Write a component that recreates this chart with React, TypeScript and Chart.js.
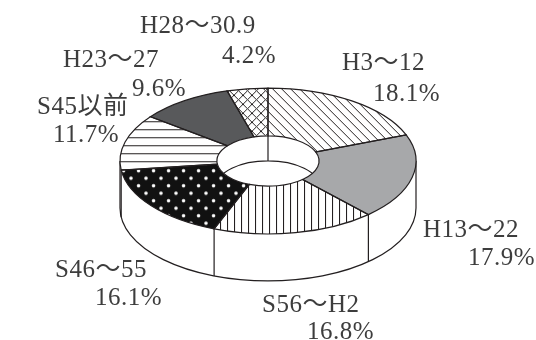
import React, { useEffect, useRef } from "react";
import { Chart, registerables } from "chart.js";

Chart.register(...registerables);

// ---- data ----
const categories = ["H3～12", "H13～22", "S56～H2", "S46～55", "S45以前", "H23～27", "H28～30.9"];
const shares = [18.1, 17.9, 16.8, 16.1, 11.7, 9.6, 4.2];

// ---- layout (label anchors: name x, name baseline, pct x, pct baseline) ----
const labelPos = [
  [342, 70, 373, 101],
  [423, 237, 468, 265],
  [262, 312, 307, 339],
  [55, 277, 95, 305],
  [37, 114, 53, 142],
  [63, 67, 132, 96],
  [140, 33, 222, 63],
];

const W = 536;
const H = 340;
const K = 0.493; // vertical squash of the disc
const TOP_Y = 161; // centre of the top face
const DEPTH = 47; // outer wall height
const INNER_DEPTH = 25; // visible inner wall depth
const LINE = "#231f20";

function makePattern(kind: string): CanvasPattern | string {
  const t = document.createElement("canvas");
  const c = t.getContext("2d")!;
  let size = 8;
  if (kind === "diag") {
    size = 9;
    t.width = t.height = size;
    c.fillStyle = "#fff";
    c.fillRect(0, 0, size, size);
    c.strokeStyle = LINE;
    c.lineWidth = 1;
    c.beginPath();
    for (let o = -size; o <= size; o += size) {
      c.moveTo(o, 0);
      c.lineTo(o + size, size);
    }
    c.stroke();
  } else if (kind === "cross") {
    size = 9;
    t.width = t.height = size;
    c.fillStyle = "#fff";
    c.fillRect(0, 0, size, size);
    c.strokeStyle = LINE;
    c.lineWidth = 1;
    c.beginPath();
    for (let o = -size; o <= size; o += size) {
      c.moveTo(o, 0);
      c.lineTo(o + size, size);
      c.moveTo(o + size, 0);
      c.lineTo(o, size);
    }
    c.stroke();
  } else if (kind === "vert") {
    t.width = 7;
    t.height = 7;
    c.fillStyle = "#fff";
    c.fillRect(0, 0, 7, 7);
    c.fillStyle = LINE;
    c.fillRect(3, 0, 1, 7);
  } else if (kind === "horiz") {
    t.width = 8;
    t.height = 8;
    c.fillStyle = "#fff";
    c.fillRect(0, 0, 8, 8);
    c.fillStyle = LINE;
    c.fillRect(0, 4, 8, 1);
  } else if (kind === "dots") {
    t.width = 15;
    t.height = 15;
    c.fillStyle = "#111";
    c.fillRect(0, 0, 15, 15);
    c.fillStyle = "#fff";
    c.beginPath();
    c.arc(3.5, 3.5, 1.8, 0, Math.PI * 2);
    c.arc(11, 11, 1.8, 0, Math.PI * 2);
    c.fill();
  }
  const ctx = document.createElement("canvas").getContext("2d")!;
  const p = ctx.createPattern(t, "repeat")!;
  try {
    p.setTransform(new DOMMatrix([1, 0, 0, 1 / K, 0, 0]));
  } catch (e) {}
  return p;
}

const discPlugin = {
  id: "disc3d",
  beforeDatasetsDraw(chart: any) {
    const meta = chart.getDatasetMeta(0);
    const arcs = meta.data;
    if (!arcs.length) return;
    const ctx = chart.ctx as CanvasRenderingContext2D;
    const cx = arcs[0].x;
    const cy = arcs[0].y;
    const R = arcs[0].outerRadius;
    const ty = TOP_Y;
    const ry = R * K;
    ctx.save();
    // outer wall
    ctx.beginPath();
    ctx.ellipse(cx, ty, R, ry, 0, 0, Math.PI, false);
    ctx.lineTo(cx - R, ty + DEPTH);
    ctx.ellipse(cx, ty + DEPTH, R, ry, 0, Math.PI, 0, true);
    ctx.closePath();
    ctx.fillStyle = "#fff";
    ctx.fill();
    ctx.strokeStyle = LINE;
    ctx.lineWidth = 1.2;
    ctx.beginPath();
    ctx.moveTo(cx - R, ty);
    ctx.lineTo(cx - R, ty + DEPTH);
    ctx.ellipse(cx, ty + DEPTH, R, ry, 0, Math.PI, 0, true);
    ctx.lineTo(cx + R, ty);
    ctx.stroke();
    // slice edges on the front wall
    ctx.beginPath();
    arcs.forEach((a: any) => {
      let ang = a.endAngle % (Math.PI * 2);
      if (ang < 0) ang += Math.PI * 2;
      if (ang > 0.01 && ang < Math.PI - 0.01) {
        const x = cx + R * Math.cos(ang);
        const y = ty + ry * Math.sin(ang);
        ctx.moveTo(x, y);
        ctx.lineTo(x, y + DEPTH);
      }
    });
    ctx.stroke();
    ctx.restore();

    // squash the disc drawn by Chart.js
    ctx.save();
    ctx.translate(0, ty);
    ctx.scale(1, K);
    ctx.translate(0, -cy);
  },
  afterDatasetsDraw(chart: any) {
    const meta = chart.getDatasetMeta(0);
    const arcs = meta.data;
    if (!arcs.length) return;
    const ctx = chart.ctx as CanvasRenderingContext2D;
    ctx.restore();
    const cx = arcs[0].x;
    const R = arcs[0].outerRadius;
    const r = arcs[0].innerRadius;
    const ty = TOP_Y;
    ctx.save();
    ctx.strokeStyle = LINE;
    ctx.lineWidth = 1.2;
    // hole
    ctx.beginPath();
    ctx.ellipse(cx, ty, r, r * K, 0, 0, Math.PI * 2);
    ctx.fillStyle = "#fff";
    ctx.fill();
    // inner back wall
    ctx.save();
    ctx.clip();
    ctx.beginPath();
    ctx.ellipse(cx, ty + INNER_DEPTH, r, r * K, 0, Math.PI, Math.PI * 2, false);
    const a0 = arcs[0].startAngle;
    const x0 = cx + r * Math.cos(a0);
    const y0 = ty + r * K * Math.sin(a0);
    ctx.moveTo(x0, y0);
    ctx.lineTo(x0, y0 + INNER_DEPTH);
    ctx.stroke();
    ctx.restore();
    // slice outlines on the top face
    arcs.forEach((a: any) => {
      ctx.beginPath();
      ctx.ellipse(cx, ty, R, R * K, 0, a.startAngle, a.endAngle, false);
      ctx.ellipse(cx, ty, r, r * K, 0, a.endAngle, a.startAngle, true);
      ctx.closePath();
      ctx.stroke();
    });
    ctx.restore();
  },
  afterDraw(chart: any) {
    const ctx = chart.ctx as CanvasRenderingContext2D;
    ctx.save();
    ctx.fillStyle = "#3d3d3d";
    ctx.font = '25px "Liberation Serif", "Noto Sans CJK JP", serif';
    (ctx as any).letterSpacing = "0.5px";
    ctx.textAlign = "left";
    ctx.textBaseline = "alphabetic";
    categories.forEach((name, i) => {
      const p = labelPos[i];
      ctx.fillText(name, p[0], p[1]);
      ctx.fillText(shares[i].toFixed(1) + "%", p[2], p[3]);
    });
    ctx.restore();
  },
};

export default function App() {
  const ref = useRef<HTMLCanvasElement>(null);
  useEffect(() => {
    if (!ref.current) return;
    const colors = [
      makePattern("diag"),
      "#a7a8aa",
      makePattern("vert"),
      makePattern("dots"),
      makePattern("horiz"),
      "#58595b",
      makePattern("cross"),
    ];
    const chart = new Chart(ref.current, {
      type: "doughnut",
      data: {
        labels: categories,
        datasets: [
          {
            data: shares,
            backgroundColor: colors as any,
            hoverBackgroundColor: colors as any,
            borderWidth: 0,
            hoverOffset: 0,
          },
        ],
      },
      options: {
        animation: false,
        responsive: false,
        cutout: "34.5%",
        layout: { padding: { top: 22, bottom: 22, left: 0, right: 0 } },
        plugins: { legend: { display: false }, tooltip: { enabled: false } },
        events: [],
      } as any,
      plugins: [discPlugin],
    });
    return () => chart.destroy();
  }, []);
  return (
    <div style={{ position: "absolute", left: 0, top: 0, width: W, height: H, background: "#fff" }}>
      <canvas ref={ref} width={W} height={H} style={{ width: W, height: H, display: "block" }} />
    </div>
  );
}
